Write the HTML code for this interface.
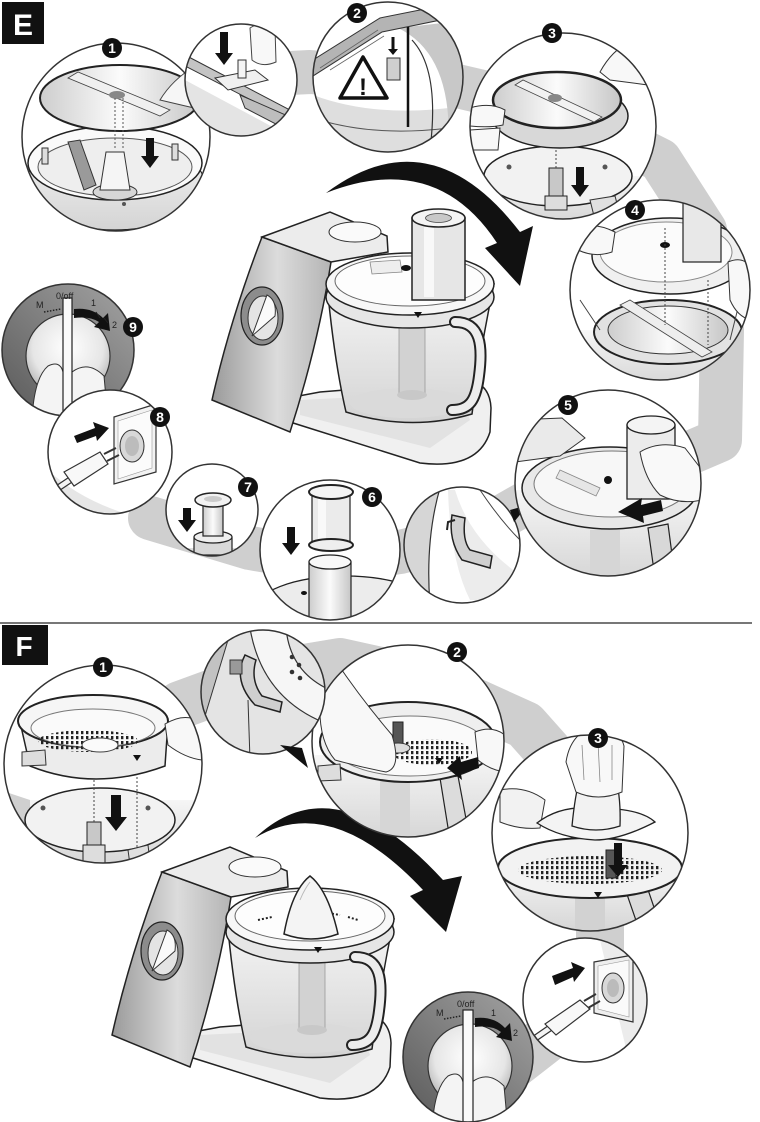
<!DOCTYPE html>
<html><head><meta charset="utf-8"><style>
html,body{margin:0;padding:0;background:#fff;}
svg{display:block;}
text{font-family:"Liberation Sans",Arial,sans-serif;}
</style></head><body>
<svg width="760" height="1122" viewBox="0 0 760 1122" xmlns="http://www.w3.org/2000/svg">
<defs>
<linearGradient id="gP" x1="0" y1="0" x2="1" y2="0"><stop offset="0" stop-color="#9a9a9a"/><stop offset=".55" stop-color="#dcdcdc"/><stop offset="1" stop-color="#b4b4b4"/></linearGradient>
<linearGradient id="gB" x1="0" y1="0" x2="0" y2="1"><stop offset="0" stop-color="#f6f6f6"/><stop offset="1" stop-color="#d4d4d4"/></linearGradient>
<linearGradient id="gD" x1="0" y1="0" x2="1" y2="0"><stop offset="0" stop-color="#cdcdcd"/><stop offset=".5" stop-color="#fbfbfb"/><stop offset="1" stop-color="#c6c6c6"/></linearGradient>
<linearGradient id="gR" x1="1" y1="0" x2="0" y2="1"><stop offset="0" stop-color="#a4a4a4"/><stop offset="1" stop-color="#595959"/></linearGradient>
<radialGradient id="gI" cx=".5" cy=".4" r=".6"><stop offset="0" stop-color="#ffffff"/><stop offset=".7" stop-color="#e6e6e6"/><stop offset="1" stop-color="#b4b4b4"/></radialGradient>
<pattern id="dots" width="5" height="5" patternUnits="userSpaceOnUse"><rect x="1" y="1" width="2.4" height="3.2" fill="#222"/></pattern>
<clipPath id="c1"><circle cx="116" cy="137" r="94"/></clipPath>
<clipPath id="cs"><circle cx="241" cy="80" r="56"/></clipPath>
<clipPath id="c2"><circle cx="388" cy="77" r="75"/></clipPath>
<clipPath id="c3"><circle cx="563" cy="126" r="93"/></clipPath>
<clipPath id="c4"><circle cx="660" cy="290" r="90"/></clipPath>
<clipPath id="c5"><circle cx="608" cy="483" r="93"/></clipPath>
<clipPath id="c5s"><circle cx="462" cy="545" r="58"/></clipPath>
<clipPath id="c6"><circle cx="330" cy="550" r="70"/></clipPath>
<clipPath id="c7"><circle cx="212" cy="510" r="46"/></clipPath>
<clipPath id="c8"><circle cx="110" cy="452" r="62"/></clipPath>
<clipPath id="c9"><circle cx="68" cy="350" r="66"/></clipPath>
<clipPath id="f1"><circle cx="103" cy="764" r="99"/></clipPath>
<clipPath id="fs"><circle cx="263" cy="692" r="62"/></clipPath>
<clipPath id="f2"><circle cx="408" cy="741" r="96"/></clipPath>
<clipPath id="f3"><circle cx="590" cy="833" r="98"/></clipPath>
<clipPath id="fp"><circle cx="585" cy="1000" r="62"/></clipPath>
<clipPath id="fk"><circle cx="468" cy="1057" r="65"/></clipPath>

<g id="body">
  <path d="M288,398 L290,422 L420,463 Q478,470 490,432 L491,408 Q490,385 470,380 L320,392 Z" fill="#f0f0f0" stroke="#222" stroke-width="1.5"/>
  <path d="M300,400 L460,392 L470,420 L430,448 L300,415 Z" fill="#e2e2e2"/>
  <path d="M262,237 L331,262 Q318,345 290,432 L212,400 Q230,320 262,237 Z" fill="url(#gP)" stroke="#222" stroke-width="1.5"/>
  <path d="M262,237 L330,212 L387,236 L388,252 L331,262 Z" fill="#ececec" stroke="#222" stroke-width="1.5"/>
  <ellipse cx="355" cy="232" rx="26" ry="10" fill="#fafafa" stroke="#333"/>
  <path d="M327,284 Q334,360 346,412 Q410,432 472,414 Q480,350 494,284 Z" fill="url(#gB)" stroke="#222" stroke-width="1.5"/>
  <ellipse cx="408" cy="403" rx="58" ry="15" fill="#dadada"/>
  <rect x="399" y="318" width="26" height="78" fill="#d2d2d2" stroke="#999" stroke-width=".8"/>
  <ellipse cx="412" cy="395" rx="15" ry="5" fill="#c8c8c8"/>
  <ellipse cx="410" cy="297" rx="84" ry="31" fill="#e6e6e6" stroke="#222" stroke-width="1.5"/>
  <ellipse cx="410" cy="284" rx="84" ry="31" fill="#f7f7f7" stroke="#222" stroke-width="1.5"/>
  <ellipse cx="410" cy="281" rx="75" ry="25" fill="#fdfdfd" stroke="#666" stroke-width="1"/>
  <polygon points="414,312 422,312 418,318" fill="#111"/>
  <path d="M455,322 C481,322 483,346 479,376 C476,400 470,410 452,410" fill="none" stroke="#222" stroke-width="12" stroke-linecap="round"/>
  <path d="M455,322 C481,322 483,346 479,376 C476,400 470,410 452,410" fill="none" stroke="#ededed" stroke-width="8" stroke-linecap="round"/>
  <ellipse cx="262" cy="316" rx="21" ry="29" fill="#8c8c8c" stroke="#222" stroke-width="1.2"/>
  <ellipse cx="263" cy="318" rx="15" ry="22" fill="#e4e4e4" stroke="#333"/>
  <path d="M252,336 L267,295 Q277,300 275,316 Z" fill="#fafafa" stroke="#333"/>
</g>
</defs>

<!-- grey swaths -->
<g fill="none" stroke="#cfcfcf" stroke-linejoin="round" stroke-linecap="round">
  <path d="M250,75 L310,72 L440,82 L560,110 L660,160 L705,230 L722,330 L720,440 L650,470 L540,495 L470,535 L400,552 L330,562 L250,548 L200,533 L150,518" stroke-width="44"/>
  <path d="M180,705 L262,675 L340,662 L430,682 L525,725 L565,770 L600,900 L600,960 L545,1040 L500,1075" stroke-width="48"/>
</g>

<!-- divider -->
<line x1="0" y1="623" x2="752" y2="623" stroke="#777" stroke-width="2"/>
<!-- section labels -->
<rect x="2" y="2" width="42" height="42" fill="#111"/>
<text x="23" y="35" font-size="30" font-weight="bold" fill="#fff" text-anchor="middle">E</text>
<rect x="2" y="625" width="46" height="40" fill="#111"/>
<text x="24" y="656" font-size="28" font-weight="bold" fill="#fff" text-anchor="middle">F</text>

<!-- big arrows -->
<path d="M326,193 Q430,115 520,232 L533,226 L520,286 L485,248 L497,243 Q436,150 326,193 Z" fill="#111"/>
<path d="M255,838 Q335,762 443,880 L462,876 L446,932 L410,896 L423,890 Q331,792 255,838 Z" fill="#111"/>

<!-- appliance E -->
<use href="#body"/>
<path d="M370,262 L400,260 L402,272 L372,274 Z" fill="#eee" stroke="#888" stroke-width=".8"/>
<ellipse cx="406" cy="268" rx="5" ry="3" fill="#111"/>
<rect x="412" y="218" width="53" height="82" fill="#e6e6e6" stroke="#222" stroke-width="1.5"/>
<rect x="424" y="225" width="10" height="72" fill="#f8f8f8"/>
<ellipse cx="438.5" cy="218" rx="26.5" ry="9" fill="#f4f4f4" stroke="#222" stroke-width="1.5"/>
<ellipse cx="438.5" cy="218" rx="13" ry="4.5" fill="#c8c8c8" stroke="#444" stroke-width=".8"/>

<!-- appliance F -->
<use href="#body" transform="translate(-100,635)"/>
<path d="M258,920 L272,917 M290,914 L300,913 M328,913 L340,915 M348,917 L358,920" stroke="#222" stroke-width="2" stroke-dasharray="2,2"/>
<path d="M284,934 Q292,890 310,876 Q328,890 338,934 Q311,944 284,934 Z" fill="#f4f4f4" stroke="#222" stroke-width="1.5"/>
<path d="M300,900 Q304,890 310,882" stroke="#bbb" fill="none"/>

<!-- ===== Circle 9 ===== -->
<g clip-path="url(#c9)">
  <circle cx="68" cy="350" r="66" fill="url(#gR)"/>
  <circle cx="68" cy="356" r="42" fill="url(#gI)" stroke="#333" stroke-width="1.2"/>
  <path d="M32,420 Q34,378 48,366 Q60,360 63,372 L63,420 Z" fill="#f4f4f4" stroke="#333"/>
  <path d="M72,372 Q88,360 104,376 L108,420 L72,420 Z" fill="#f4f4f4" stroke="#333"/>
  <rect x="63" y="298" width="9" height="125" fill="#fafafa" stroke="#222" stroke-width="1.2"/>
  <line x1="44" y1="312" x2="61" y2="309" stroke="#222" stroke-width="1.5" stroke-dasharray="1.5,1.5"/>
  <path d="M74,309 Q92,307 103,318 L108,313 L110,331 L94,327 L99,322 Q90,316 74,318 Z" fill="#111"/>
  <path d="M96,312 L100,318 M104,318 L108,323" stroke="#222"/>
  <text x="36" y="308" font-size="9" fill="#222">M</text>
  <text x="56" y="299" font-size="9" fill="#222">0/off</text>
  <text x="91" y="306" font-size="9" fill="#222">1</text>
  <text x="112" y="328" font-size="9" fill="#222">2</text>
</g>
<circle cx="68" cy="350" r="66" fill="none" stroke="#333" stroke-width="1.5"/>

<!-- ===== Circle 8 ===== -->
<g clip-path="url(#c8)">
  <circle cx="110" cy="452" r="62" fill="#fff"/>
  <path d="M48,470 Q80,500 130,515 L48,515 Z" fill="#e6e6e6"/>
  <polygon points="114,417 156,404 156,472 114,484" fill="#f2f2f2" stroke="#333" stroke-width="1.2"/>
  <polygon points="118,421 152,410 152,468 118,479" fill="#fbfbfb" stroke="#999" stroke-width=".6"/>
  <ellipse cx="132" cy="446" rx="12" ry="16" fill="#d8d8d8" stroke="#333"/>
  <ellipse cx="132" cy="446" rx="7" ry="10" fill="#bcbcbc"/>
  <path d="M40,500 Q58,488 70,480" stroke="#333" stroke-width="7" fill="none"/>
  <path d="M40,500 Q58,488 70,480" stroke="#f4f4f4" stroke-width="4.5" fill="none"/>
  <path d="M64,472 L100,452 L108,464 L74,486 Z" fill="#f8f8f8" stroke="#333" stroke-width="1.2"/>
  <path d="M104,454 L116,448 M107,461 L119,455" stroke="#333" stroke-width="2"/>
  <path d="M74,436 L95,428 L93,422 L109,428 L97,441 L96,436 L77,443 Z" fill="#111"/>
</g>
<circle cx="110" cy="452" r="62" fill="none" stroke="#333" stroke-width="1.5"/>

<!-- ===== Circle 7 ===== -->
<g clip-path="url(#c7)">
  <circle cx="212" cy="510" r="46" fill="#fff"/>
  <rect x="186" y="548" width="52" height="20" fill="#dedede"/>
  <rect x="194" y="537" width="38" height="18" fill="#d8d8d8" stroke="#222" stroke-width="1.2"/>
  <ellipse cx="213" cy="537" rx="19" ry="6" fill="#eee" stroke="#222" stroke-width="1.2"/>
  <rect x="203" y="502" width="20" height="34" fill="url(#gD)" stroke="#222" stroke-width="1.2"/>
  <ellipse cx="213" cy="500" rx="18" ry="7" fill="#f2f2f2" stroke="#222" stroke-width="1.5"/>
  <ellipse cx="213" cy="499" rx="9" ry="3" fill="#ccc"/>
  <path d="M183,508 L191,508 L191,520 L196,520 L187,532 L178,520 L183,520 Z" fill="#111"/>
</g>
<circle cx="212" cy="510" r="46" fill="none" stroke="#333" stroke-width="1.5"/>

<!-- ===== Circle 6 ===== -->
<g clip-path="url(#c6)">
  <circle cx="330" cy="550" r="70" fill="#fff"/>
  <ellipse cx="345" cy="612" rx="92" ry="36" fill="#ececec" stroke="#222" stroke-width="1.3"/>
  <rect x="309" y="562" width="42" height="60" fill="url(#gD)" stroke="#222" stroke-width="1.2"/>
  <ellipse cx="330" cy="562" rx="21" ry="7" fill="#f8f8f8" stroke="#222" stroke-width="1.3"/>
  <ellipse cx="304" cy="593" rx="3" ry="2" fill="#111"/>
  <rect x="312" y="493" width="38" height="52" fill="#ebebeb" stroke="#222" stroke-width="1.2"/>
  <rect x="318" y="498" width="8" height="44" fill="#f9f9f9"/>
  <ellipse cx="331" cy="545" rx="22" ry="6" fill="#eee" stroke="#222" stroke-width="2"/>
  <ellipse cx="331" cy="492" rx="22" ry="7" fill="#f4f4f4" stroke="#222" stroke-width="2"/>
  <path d="M287,527 L295,527 L295,543 L300,543 L291,555 L282,543 L287,543 Z" fill="#111"/>
</g>
<circle cx="330" cy="550" r="70" fill="none" stroke="#333" stroke-width="1.5"/>

<!-- ===== small circle near 5 ===== -->
<g clip-path="url(#c5s)">
  <circle cx="462" cy="545" r="58" fill="#fff"/>
  <path d="M404,490 L440,488 Q425,540 430,605 L404,605 Z" fill="#d6d6d6"/>
  <path d="M440,488 Q425,540 430,605" stroke="#333" fill="none" stroke-width="1.2"/>
  <path d="M455,490 Q470,540 520,575 L520,600 L470,600 Q450,560 448,490 Z" fill="#ececec"/>
  <path d="M452,515 Q448,540 462,560 L490,568 L492,556 L470,550 Q462,540 465,518 Z" fill="#d0d0d0" stroke="#222" stroke-width="1.5"/>
  <path d="M455,520 L448,522 L447,530" stroke="#222" stroke-width="2" fill="none"/>
  <path d="M480,490 Q500,520 520,540" stroke="#444" fill="none"/>
</g>
<circle cx="462" cy="545" r="58" fill="none" stroke="#333" stroke-width="1.5"/>
<polygon points="510,510 528,505 514,522" fill="#111"/>

<!-- ===== Circle 5 ===== -->
<g clip-path="url(#c5)">
  <circle cx="608" cy="483" r="93" fill="#fff"/>
  <rect x="510" y="490" width="200" height="95" fill="url(#gB)"/>
  <rect x="590" y="530" width="30" height="50" fill="#d6d6d6"/>
  <ellipse cx="610" cy="488" rx="88" ry="41" fill="#e8e8e8" stroke="#222" stroke-width="1.5"/>
  <ellipse cx="612" cy="484" rx="78" ry="33" fill="#f7f7f7" stroke="#777"/>
  <path d="M560,470 L600,488 L596,496 L556,478 Z" fill="#e6e6e6" stroke="#888" stroke-width=".8"/>
  <circle cx="608" cy="480" r="4" fill="#111"/>
  <path d="M515,420 L562,418 L585,438 L560,456 L515,462 Z" fill="#eaeaea" stroke="#333"/>
  <rect x="627" y="425" width="48" height="74" fill="#ececec" stroke="#222" stroke-width="1.3"/>
  <ellipse cx="651" cy="425" rx="24" ry="9" fill="#f4f4f4" stroke="#222" stroke-width="1.3"/>
  <path d="M640,452 Q660,440 685,448 L702,470 L702,500 Q680,505 660,495 Q645,480 640,452 Z" fill="#f9f9f9" stroke="#333"/>
  <path d="M648,528 L668,524 L676,585 L656,585 Z" fill="#d8d8d8" stroke="#222" stroke-width="1.2"/>
  <path d="M661,500 L641,505 L642,498 L618,512 L644,523 L643,516 L663,511 Z" fill="#111"/>
</g>
<circle cx="608" cy="483" r="93" fill="none" stroke="#333" stroke-width="1.5"/>

<!-- ===== Circle 4 ===== -->
<g clip-path="url(#c4)">
  <circle cx="660" cy="290" r="90" fill="#fff"/>
  <rect x="570" y="330" width="180" height="60" fill="url(#gB)"/>
  <ellipse cx="668" cy="332" rx="74" ry="32" fill="#e2e2e2" stroke="#222" stroke-width="2"/>
  <ellipse cx="668" cy="330" rx="60" ry="24" fill="url(#gD)" stroke="#333"/>
  <path d="M620,305 L630,300 L712,352 L702,357 Z" fill="#eee" stroke="#444" stroke-width=".8"/>
  <path d="M580,300 L600,330 M740,300 L730,340" stroke="#444"/>
  <ellipse cx="670" cy="256" rx="78" ry="38" fill="#f0f0f0" stroke="#222" stroke-width="1.5"/>
  <ellipse cx="666" cy="252" rx="66" ry="30" fill="#fbfbfb" stroke="#888"/>
  <rect x="683" y="200" width="38" height="62" fill="#e8e8e8" stroke="#222" stroke-width="1.2"/>
  <ellipse cx="665" cy="245" rx="5" ry="3" fill="#111"/>
  <line x1="665" y1="228" x2="665" y2="325" stroke="#444" stroke-dasharray="2,2"/>
  <line x1="708" y1="280" x2="708" y2="345" stroke="#444" stroke-dasharray="2,2"/>
  <path d="M580,228 Q595,222 615,232 L612,252 Q595,258 578,250 Z" fill="#f8f8f8" stroke="#333"/>
  <path d="M728,262 Q745,255 752,270 L752,320 Q738,318 730,300 Z" fill="#f8f8f8" stroke="#333"/>
</g>
<circle cx="660" cy="290" r="90" fill="none" stroke="#333" stroke-width="1.5"/>

<!-- ===== Circle 3 ===== -->
<g clip-path="url(#c3)">
  <circle cx="563" cy="126" r="93" fill="#fff"/>
  <rect x="470" y="176" width="190" height="50" fill="url(#gB)"/>
  <ellipse cx="558" cy="176" rx="74" ry="30" fill="#f2f2f2" stroke="#222" stroke-width="1.5"/>
  <rect x="549" y="168" width="14" height="32" fill="#c8c8c8" stroke="#222"/>
  <rect x="545" y="196" width="22" height="14" fill="#ddd" stroke="#222"/>
  <line x1="556" y1="130" x2="556" y2="168" stroke="#444" stroke-dasharray="2,2"/>
  <circle cx="509" cy="167" r="2.5" fill="#555"/><circle cx="605" cy="167" r="2.5" fill="#555"/>
  <path d="M590,200 L615,196 L620,215 L595,220 Z" fill="#e0e0e0" stroke="#333"/>
  <ellipse cx="560" cy="116" rx="68" ry="32" fill="#d8d8d8" stroke="#222" stroke-width="1.5"/>
  <ellipse cx="557" cy="100" rx="64" ry="28" fill="url(#gD)" stroke="#222" stroke-width="2.5"/>
  <path d="M515,85 L523,80 L602,117 L594,122 Z" fill="#f2f2f2" stroke="#444" stroke-width=".8"/>
  <ellipse cx="555" cy="98" rx="7" ry="4" fill="#888"/>
  <path d="M470,108 Q490,102 505,110 L503,125 Q490,128 470,126 Z M470,130 L500,128 L498,150 L470,150 Z" fill="#f8f8f8" stroke="#333"/>
  <path d="M600,72 Q612,50 630,42 L650,55 L648,85 Q625,82 610,80 Z" fill="#f8f8f8" stroke="#333"/>
  <path d="M576,167 L584,167 L584,185 L589,185 L580,197 L571,185 L576,185 Z" fill="#111"/>
</g>
<circle cx="563" cy="126" r="93" fill="none" stroke="#333" stroke-width="1.5"/>

<!-- ===== Circle 2 ===== -->
<g clip-path="url(#c2)">
  <circle cx="388" cy="77" r="75" fill="#fff"/>
  <path d="M313,95 Q380,120 470,105 L470,160 L313,160 Z" fill="#dedede"/>
  <path d="M313,118 Q380,140 470,125" stroke="#555" fill="none"/>
  <path d="M398,28 Q455,55 448,155 L470,155 L470,20 Z" fill="#c8c8c8"/>
  <path d="M412,40 Q440,70 430,150" stroke="#333" fill="none" stroke-width="1.2"/>
  <polygon points="313,60 380,18 470,0 470,14 382,32 313,76" fill="#b4b4b4" stroke="#333"/>
  <path d="M320,68 L378,30 M330,70 L384,36" stroke="#666" stroke-width=".8"/>
  <rect x="387" y="58" width="13" height="22" fill="#cfcfcf" stroke="#333"/>
  <path d="M391.5,37 L394.5,37 L394.5,49 L398,49 L393,55 L388,49 L391.5,49 Z" fill="#111"/>
  <line x1="408" y1="27" x2="408" y2="127" stroke="#111" stroke-width="2.5"/>
  <polygon points="340,98 363,57 387,98" fill="#fff" stroke="#111" stroke-width="3.5" stroke-linejoin="round"/>
  <text x="363" y="95" font-size="24" font-weight="bold" fill="#111" text-anchor="middle">!</text>
</g>
<circle cx="388" cy="77" r="75" fill="none" stroke="#333" stroke-width="1.5"/>

<!-- ===== Circle 1 ===== -->
<g clip-path="url(#c1)">
  <circle cx="116" cy="137" r="94" fill="#fff"/>
  <ellipse cx="115" cy="185" rx="90" ry="45" fill="url(#gB)" stroke="#222" stroke-width="1.2"/>
  <ellipse cx="115" cy="163" rx="87" ry="37" fill="#fafafa" stroke="#222" stroke-width="1.5"/>
  <ellipse cx="115" cy="167" rx="77" ry="29" fill="#eeeeee" stroke="#555"/>
  <path d="M68,142 L80,140 L96,185 L84,190 Z" fill="#9a9a9a" stroke="#333"/>
  <ellipse cx="115" cy="192" rx="22" ry="8" fill="#d6d6d6" stroke="#333"/>
  <path d="M100,190 L130,190 L124,152 L106,152 Z" fill="#f5f5f5" stroke="#333"/>
  <rect x="42" y="148" width="6" height="16" fill="#ddd" stroke="#333"/>
  <rect x="172" y="144" width="6" height="16" fill="#ddd" stroke="#333"/>
  <circle cx="124" cy="204" r="2" fill="#555"/>
  <ellipse cx="120" cy="98" rx="80" ry="33" fill="url(#gD)" stroke="#222" stroke-width="2"/>
  <path d="M68,78 L78,72 L170,110 L160,116 Z" fill="#f0f0f0" stroke="#444" stroke-width=".8"/>
  <ellipse cx="117" cy="95" rx="8" ry="4" fill="#888"/>
  <line x1="115" y1="98" x2="115" y2="150" stroke="#555" stroke-dasharray="2,2"/>
  <line x1="123" y1="98" x2="123" y2="150" stroke="#555" stroke-dasharray="2,2"/>
  <path d="M160,100 Q172,80 195,66 L212,78 L212,112 Q185,106 160,100 Z" fill="#f6f6f6" stroke="#444"/>
  <path d="M146,138 L154,138 L154,156 L159,156 L150,168 L141,156 L146,156 Z" fill="#111"/>
</g>
<circle cx="116" cy="137" r="94" fill="none" stroke="#333" stroke-width="1.5"/>

<!-- ===== small circle top ===== -->
<g clip-path="url(#cs)">
  <circle cx="241" cy="80" r="56" fill="#fff"/>
  <polygon points="185,80 297,140 297,140 185,140" fill="#e4e4e4"/>
  <polygon points="185,55 290,110 290,120 185,66" fill="#c4c4c4" stroke="#333"/>
  <polygon points="240,95 297,120 297,135 245,108" fill="#bdbdbd" stroke="#333"/>
  <path d="M215,78 L255,70 L268,80 L228,90 Z" fill="#f0f0f0" stroke="#333"/>
  <rect x="238" y="60" width="8" height="18" fill="#f4f4f4" stroke="#333"/>
  <path d="M250,28 Q262,20 275,28 L276,62 Q262,68 252,60 Z" fill="#f8f8f8" stroke="#444"/>
  <path d="M220,32 L228,32 L228,53 L233,53 L224,65 L215,53 L220,53 Z" fill="#111"/>
</g>
<circle cx="241" cy="80" r="56" fill="none" stroke="#333" stroke-width="1.5"/>

<!-- ===== F1 ===== -->
<g clip-path="url(#f1)">
  <circle cx="103" cy="764" r="99" fill="#fff"/>
  <rect x="0" y="800" width="210" height="70" fill="url(#gB)"/>
  <path d="M0,790 L30,800 L30,870 L0,870 Z" fill="#d0d0d0"/>
  <ellipse cx="100" cy="820" rx="75" ry="32" fill="#f2f2f2" stroke="#222" stroke-width="1.5"/>
  <circle cx="43" cy="808" r="2.5" fill="#555"/><circle cx="148" cy="808" r="2.5" fill="#555"/>
  <rect x="87" y="822" width="14" height="40" fill="#c8c8c8" stroke="#222"/>
  <rect x="83" y="845" width="22" height="20" fill="#ddd" stroke="#222"/>
  <line x1="94" y1="760" x2="94" y2="822" stroke="#444" stroke-dasharray="2,2"/>
  <line x1="137" y1="765" x2="137" y2="850" stroke="#444" stroke-dasharray="2,2"/>
  <path d="M128,850 L148,845 L150,862 L130,865 Z" fill="#e0e0e0" stroke="#333"/>
  <path d="M20,722 L30,766 Q95,792 165,766 L168,722 Z" fill="#ececec" stroke="#222" stroke-width="1.5"/>
  <ellipse cx="93" cy="721" rx="75" ry="26" fill="#f6f6f6" stroke="#222" stroke-width="2"/>
  <ellipse cx="93" cy="728" rx="62" ry="19" fill="#fafafa" stroke="#777"/>
  <ellipse cx="88" cy="741" rx="50" ry="11" fill="url(#dots)"/>
  <ellipse cx="100" cy="745" rx="18" ry="7" fill="#fafafa" stroke="#444"/>
  <path d="M22,752 L45,750 L46,765 L22,766 Z" fill="#ddd" stroke="#333"/>
  <path d="M165,724 Q185,712 200,722 L202,760 Q185,758 168,745 Z" fill="#f8f8f8" stroke="#333"/>
  <polygon points="133,755 141,755 137,761" fill="#111"/>
  <path d="M111,795 L121,795 L121,817 L127,817 L116,831 L105,817 L111,817 Z" fill="#111"/>
</g>
<circle cx="103" cy="764" r="99" fill="none" stroke="#333" stroke-width="1.5"/>

<!-- ===== F2 ===== -->
<g clip-path="url(#f2)">
  <circle cx="408" cy="741" r="96" fill="#fff"/>
  <rect x="310" y="755" width="200" height="90" fill="url(#gB)"/>
  <rect x="380" y="775" width="30" height="65" fill="#d6d6d6"/>
  <path d="M440,778 L458,776 L470,840 L450,840 Z" fill="#dcdcdc" stroke="#222" stroke-width="1.2"/>
  <ellipse cx="408" cy="742" rx="88" ry="40" fill="#efefef" stroke="#222" stroke-width="2"/>
  <ellipse cx="410" cy="746" rx="76" ry="30" fill="#fafafa" stroke="#777"/>
  <ellipse cx="432" cy="752" rx="40" ry="13" fill="url(#dots)"/>
  <rect x="393" y="722" width="10" height="26" fill="#555" stroke="#222"/>
  <ellipse cx="398" cy="748" rx="12" ry="5" fill="#ddd" stroke="#333"/>
  <path d="M335,660 Q362,700 392,735 Q402,768 386,772 Q360,767 335,760 Q318,740 320,700 Z" fill="#f8f8f8" stroke="#333"/>
  <path d="M475,732 Q492,725 505,735 L505,772 Q490,770 478,760 Z" fill="#f8f8f8" stroke="#333"/>
  <path d="M318,766 L340,764 L341,780 L318,781 Z" fill="#ddd" stroke="#333"/>
  <polygon points="435,758 443,758 439,764" fill="#111"/>
  <path d="M478,757 L461,762 L460,756 L447,768 L462,780 L461,774 L479,768 Z" fill="#111"/>
</g>
<circle cx="408" cy="741" r="96" fill="none" stroke="#333" stroke-width="1.5"/>

<!-- ===== F small ===== -->
<g clip-path="url(#fs)">
  <circle cx="263" cy="692" r="62" fill="#e4e4e4"/>
  <polygon points="200,625 228,640 205,716 200,760" fill="#c2c2c2"/>
  <path d="M228,640 L205,716" stroke="#333"/>
  <path d="M250,628 Q262,700 330,725 L330,690 Q290,672 286,628 Z" fill="#f6f6f6" stroke="#333" stroke-width="1.2"/>
  <path d="M245,655 Q232,680 255,705 L280,712 L282,702 L262,696 Q250,680 256,660 Z" fill="#cfcfcf" stroke="#222" stroke-width="1.5"/>
  <rect x="230" y="660" width="12" height="14" fill="#999" stroke="#333"/>
  <circle cx="292" cy="657" r="2.3" fill="#333"/><circle cx="299" cy="665" r="2.3" fill="#333"/><circle cx="292" cy="672" r="2.3" fill="#333"/><circle cx="300" cy="678" r="2.3" fill="#333"/>
  <path d="M250,760 L248,700" stroke="#333"/>
</g>
<circle cx="263" cy="692" r="62" fill="none" stroke="#333" stroke-width="1.5"/>
<polygon points="280,745 302,748 308,768" fill="#111"/>

<!-- ===== F3 ===== -->
<g clip-path="url(#f3)">
  <circle cx="590" cy="833" r="98" fill="#fff"/>
  <rect x="490" y="865" width="200" height="70" fill="url(#gB)"/>
  <rect x="575" y="895" width="30" height="40" fill="#d2d2d2"/>
  <path d="M622,880 L642,872 L660,925 L640,932 Z" fill="#dcdcdc" stroke="#222" stroke-width="1.2"/>
  <ellipse cx="590" cy="868" rx="92" ry="30" fill="#f2f2f2" stroke="#222" stroke-width="2"/>
  <ellipse cx="590" cy="870" rx="72" ry="14" fill="url(#dots)"/>
  <rect x="606" y="850" width="10" height="28" fill="#555" stroke="#222"/>
  <path d="M614,843 L622,843 L622,865 L628,865 L618,877 L608,865 L614,865 Z" fill="#111"/>
  <polygon points="594,892 602,892 598,898" fill="#111"/>
  <path d="M500,790 Q525,785 545,800 L540,828 Q520,830 500,822 Z" fill="#f2f2f2" stroke="#333"/>
  <path d="M537,823 Q560,805 595,808 Q640,808 655,822 Q620,840 595,840 Q560,838 537,823 Z" fill="#f4f4f4" stroke="#222" stroke-width="1.3"/>
  <path d="M572,826 Q575,795 580,778 L616,778 Q621,800 620,826 Q596,834 572,826 Z" fill="#f2f2f2" stroke="#222" stroke-width="1.3"/>
  <path d="M566,762 Q570,736 590,728 Q620,728 624,746 L622,792 Q598,802 576,792 Z" fill="#f8f8f8" stroke="#333"/>
  <path d="M582,745 L584,780 M598,742 L600,782 M612,745 L612,780" stroke="#888" stroke-width=".8"/>
</g>
<circle cx="590" cy="833" r="98" fill="none" stroke="#333" stroke-width="1.5"/>

<!-- ===== F plug ===== -->
<g clip-path="url(#fp)">
  <circle cx="585" cy="1000" r="62" fill="#fff"/>
  <path d="M600,940 L650,940 L650,1065 L630,1065 Z" fill="#ececec"/>
  <polygon points="594,962 633,955 633,1022 594,1013" fill="#eeeeee" stroke="#333" stroke-width="1.2"/>
  <polygon points="598,966 629,960 629,1017 598,1009" fill="#fafafa" stroke="#999" stroke-width=".6"/>
  <ellipse cx="613" cy="988" rx="11" ry="15" fill="#d8d8d8" stroke="#333"/>
  <ellipse cx="613" cy="988" rx="6" ry="9" fill="#bbb"/>
  <path d="M518,1050 L550,1028" stroke="#333" stroke-width="7" fill="none"/>
  <path d="M518,1050 L550,1028" stroke="#f4f4f4" stroke-width="4.5" fill="none"/>
  <path d="M545,1024 L580,1000 L590,1009 L556,1035 Z" fill="#f8f8f8" stroke="#333" stroke-width="1.2"/>
  <path d="M584,1001 L596,994 M588,1008 L600,1001" stroke="#333" stroke-width="2"/>
  <path d="M552,976 L573,968 L571,962 L585,968 L574,982 L573,977 L555,985 Z" fill="#111"/>
</g>
<circle cx="585" cy="1000" r="62" fill="none" stroke="#333" stroke-width="1.5"/>

<!-- ===== F knob ===== -->
<g clip-path="url(#fk)">
  <circle cx="468" cy="1057" r="65" fill="url(#gR)"/>
  <circle cx="470" cy="1066" r="42" fill="url(#gI)" stroke="#333" stroke-width="1.2"/>
  <path d="M432,1130 Q434,1088 448,1076 Q460,1070 463,1082 L463,1130 Z" fill="#f4f4f4" stroke="#333"/>
  <path d="M472,1082 Q488,1070 504,1086 L508,1130 L472,1130 Z" fill="#f4f4f4" stroke="#333"/>
  <rect x="463" y="1010" width="10" height="115" fill="#fafafa" stroke="#222" stroke-width="1.2"/>
  <line x1="444" y1="1019" x2="461" y2="1016" stroke="#222" stroke-width="1.5" stroke-dasharray="1.5,1.5"/>
  <path d="M475,1018 Q494,1016 505,1028 L510,1023 L512,1041 L496,1037 L501,1032 Q492,1025 475,1027 Z" fill="#111"/>
  <text x="436" y="1016" font-size="9" fill="#222">M</text>
  <text x="457" y="1007" font-size="9" fill="#222">0/off</text>
  <text x="491" y="1016" font-size="9" fill="#222">1</text>
  <text x="513" y="1036" font-size="9" fill="#222">2</text>
</g>
<circle cx="468" cy="1057" r="65" fill="none" stroke="#333" stroke-width="1.5"/>

<!-- badges -->
<g font-size="14" font-weight="bold" fill="#fff" text-anchor="middle">
  <circle cx="112" cy="48" r="10" fill="#111"/><text x="112" y="53">1</text>
  <circle cx="357" cy="13" r="10" fill="#111"/><text x="357" y="18">2</text>
  <circle cx="552" cy="33" r="10" fill="#111"/><text x="552" y="38">3</text>
  <circle cx="635" cy="210" r="10" fill="#111"/><text x="635" y="215">4</text>
  <circle cx="568" cy="405" r="10" fill="#111"/><text x="568" y="410">5</text>
  <circle cx="372" cy="497" r="10" fill="#111"/><text x="372" y="502">6</text>
  <circle cx="248" cy="487" r="10" fill="#111"/><text x="248" y="492">7</text>
  <circle cx="160" cy="417" r="10" fill="#111"/><text x="160" y="422">8</text>
  <circle cx="133" cy="327" r="10" fill="#111"/><text x="133" y="332">9</text>
  <circle cx="103" cy="667" r="10" fill="#111"/><text x="103" y="672">1</text>
  <circle cx="457" cy="652" r="10" fill="#111"/><text x="457" y="657">2</text>
  <circle cx="598" cy="738" r="10" fill="#111"/><text x="598" y="743">3</text>
</g>
</svg>
</body></html>
